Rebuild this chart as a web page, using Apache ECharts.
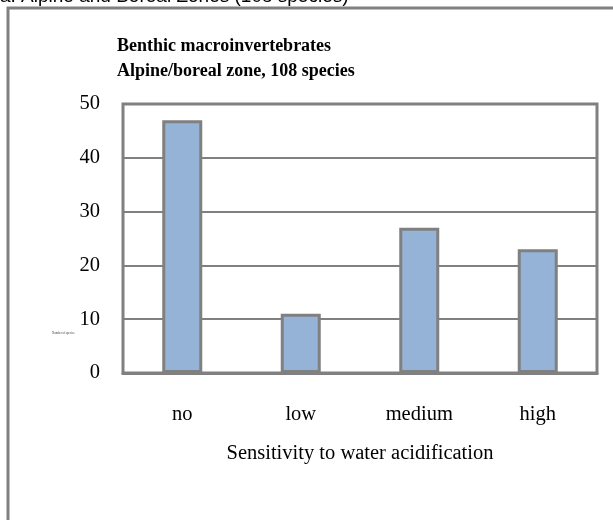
<!DOCTYPE html>
<html>
<head>
<meta charset="utf-8">
<script src="https://cdn.jsdelivr.net/npm/echarts@6/dist/echarts.min.js"></script>
<style>
  html, body { margin: 0; padding: 0; background: #fff; }
  #chart { width: 613px; height: 520px; }
</style>
</head>
<body>
<div id="chart"></div>
<script>
// data
var categories = ["no", "low", "medium", "high"];
var speciesCount = [47, 11, 27, 23];

var chart = echarts.init(document.getElementById("chart"));
var serif = "'Liberation Serif', 'DejaVu Serif', serif";
var grey = "#808080";

var option = {
  backgroundColor: "#fff",
  animation: false,
  grid: { left: 123, right: 16, top: 104, bottom: 147 },
  graphic: [
    {
      // outer frame, runs off the right and bottom edges
      type: "rect",
      shape: { x: 8, y: 8, width: 700, height: 600 },
      style: { fill: "none", stroke: grey, lineWidth: 3 }
    },
    {
      type: "text",
      left: 0, top: -13,
      style: { text: "a. Alpine and Boreal Zones (108 species)", fontFamily: "'Liberation Sans', Arial, sans-serif", fontSize: 19, fill: "#000" }
    },
    {
      type: "text",
      left: 117, top: 34,
      style: { text: "Benthic macroinvertebrates\nAlpine/boreal zone, 108 species", fontFamily: serif, fontWeight: "bold", fontSize: 18, lineHeight: 25, fill: "#000" }
    },
    {
      // outline of the plot area
      type: "rect",
      shape: { x: 123, y: 104, width: 474, height: 269 },
      style: { fill: "none", stroke: grey, lineWidth: 3 }
    },
    {
      type: "text",
      left: 52, top: 332,
      style: { text: "Number of species", fontFamily: serif, fontSize: 3, fill: "#444" }
    }
  ],
  xAxis: {
    type: "category",
    data: categories,
    name: "Sensitivity to water acidification",
    nameLocation: "middle",
    nameGap: 70,
    nameTextStyle: { fontFamily: serif, fontSize: 20.5, color: "#000" },
    axisLine: { show: true, lineStyle: { color: grey, width: 3 } },
    axisTick: { show: false },
    axisLabel: { fontFamily: serif, fontSize: 20.5, color: "#000", margin: 31 }
  },
  yAxis: {
    type: "value",
    min: 0,
    max: 50,
    interval: 10,
    axisLine: { show: false },
    axisTick: { show: false },
    axisLabel: { fontFamily: serif, fontSize: 20.5, color: "#000", margin: 23 },
    splitLine: { lineStyle: { color: grey, width: 2 } }
  },
  series: [
    {
      type: "bar",
      data: speciesCount,
      barWidth: 40,
      itemStyle: { color: "#95B3D7", borderColor: grey, borderWidth: 3 }
    }
  ]
};
chart.setOption(option);
</script>
</body>
</html>
